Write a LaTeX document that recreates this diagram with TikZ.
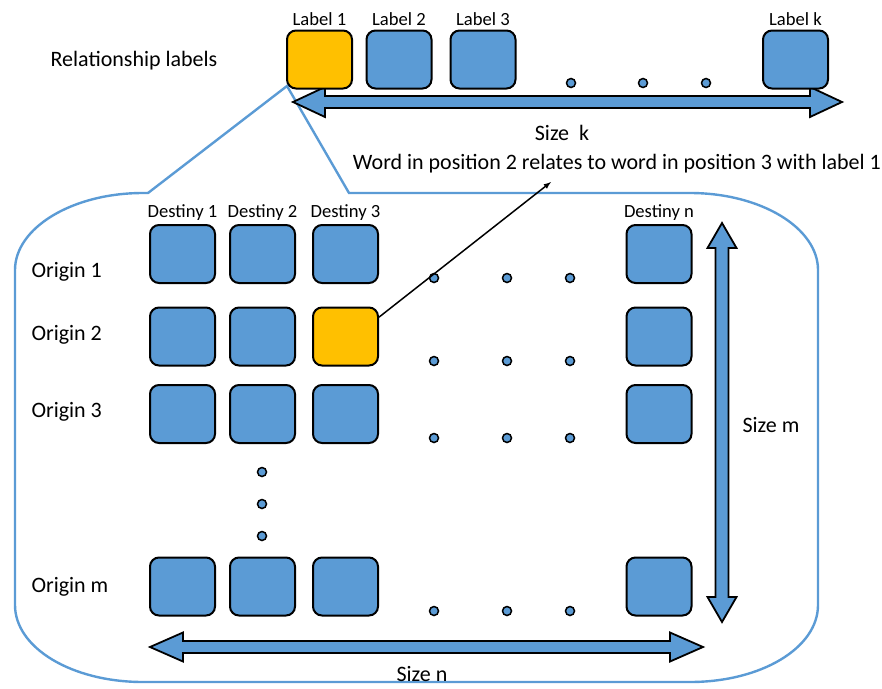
\documentclass[tikz,border=0pt]{standalone}
\usepackage{fontspec}
\setmainfont{Carlito}
\usepackage{xcolor}
\usetikzlibrary{positioning}
\definecolor{boxblue}{HTML}{5B9BD5}
\definecolor{boxorange}{HTML}{FFC000}

\begin{document}
\begin{tikzpicture}[x=1pt, y=-1pt, >=latex,
    cell/.style={draw, line width=2pt, fill=boxblue, rounded corners=9pt, minimum width=65pt, minimum height=58pt},
    hit/.style={cell, fill=boxorange},
    dot/.style={draw, circle, line width=1.5pt, fill=boxblue, inner sep=0pt, minimum size=9pt},
    big/.style={font=\fontsize{22}{25}\selectfont},
    small/.style={font=\fontsize{18.6}{21}\selectfont},
    block/.style={draw, line width=1.8pt, fill=boxblue}]
  \useasboundingbox (0,0) rectangle (882,688);

  % zoom callout from label 1 down to the matrix
  \draw[boxblue, line width=2.4pt] (287,86) -- (349,193) -- (690,193)
      .. controls (761,193) and (818,228) .. (818,270) -- (818,605)
      .. controls (818,648) and (761,682) .. (690,682) -- (143,682)
      .. controls (72,682) and (15,648) .. (15,605) -- (15,270)
      .. controls (15,228) and (72,193) .. (143,193) -- (148,193) -- cycle;

  % block arrows
  \draw[block] (293,102) -- (325,87) -- (325,96) -- (810,96) -- (810,87) -- (842,102)
      -- (810,117) -- (810,108) -- (325,108) -- (325,117) -- cycle;
  \draw[block] (722,223) -- (736.5,248) -- (728.5,248) -- (728.5,597) -- (736.5,597) -- (722,622)
      -- (707.5,597) -- (715.5,597) -- (715.5,248) -- (707.5,248) -- cycle;
  \draw[block] (150,647) -- (183,632.5) -- (183,641) -- (670,641) -- (670,632.5) -- (703,647)
      -- (670,661.5) -- (670,653) -- (183,653) -- (183,661.5) -- cycle;

  % relationship labels
  \node[big]  (rel) at (134,61) {Relationship labels};
  \node[hit]  (L1)  at (319.5,59.5) {};
  \node[cell] (L2)  at (399,59.5)   {};
  \node[cell] (L3)  at (483,59.5)   {};
  \node[cell] (Lk)  at (795.5,59.5) {};
  \node[small, above=0pt of L1] (tL1) {Label 1};
  \node[small, above=0pt of L2] (tL2) {Label 2};
  \node[small, above=0pt of L3] (tL3) {Label 3};
  \node[small, above=0pt of Lk] (tLk) {Label k};
  \node[dot] (k1) at (571,83) {};
  \node[dot] (k2) at (643,83) {};
  \node[dot] (k3) at (706,83) {};
  \node[big] (sizek) at (562,133) {Size~~k};

  % matrix
  \node[cell] (B11) at (182.5,254)   {};
  \node[cell] (B12) at (262.5,254)   {};
  \node[cell] (B13) at (345.5,254)   {};
  \node[cell] (B1n) at (659,254)     {};
  \node[cell] (B21) at (182.5,336.5) {};
  \node[cell] (B22) at (262.5,336.5) {};
  \node[hit]  (B23) at (345.5,336.5) {};
  \node[cell] (B2n) at (659,336.5)   {};
  \node[cell] (B31) at (182.5,414)   {};
  \node[cell] (B32) at (262.5,414)   {};
  \node[cell] (B33) at (345.5,414)   {};
  \node[cell] (B3n) at (659,414)     {};
  \node[cell] (Bm1) at (182.5,586.5) {};
  \node[cell] (Bm2) at (262.5,586.5) {};
  \node[cell] (Bm3) at (345.5,586.5) {};
  \node[cell] (Bmn) at (659,586.5)   {};

  \node[small, above=0pt of B11] (d1) {Destiny 1};
  \node[small, above=0pt of B12] (d2) {Destiny 2};
  \node[small, above=0pt of B13] (d3) {Destiny 3};
  \node[small, above=0pt of B1n] (dn) {Destiny n};

  \node[big, anchor=west] (o1) at (28,272)   {Origin 1};
  \node[big, anchor=west] (o2) at (28,335)   {Origin 2};
  \node[big, anchor=west] (o3) at (28,412)   {Origin 3};
  \node[big, anchor=west] (om) at (28,587)   {Origin m};

  \node[dot] (p11) at (434,278) {}; \node[dot] (p12) at (507,278) {}; \node[dot] (p13) at (570,278) {};
  \node[dot] (p21) at (434,361) {}; \node[dot] (p22) at (507,361) {}; \node[dot] (p23) at (570,361) {};
  \node[dot] (p31) at (434,438) {}; \node[dot] (p32) at (507,438) {}; \node[dot] (p33) at (570,438) {};
  \node[dot] (pm1) at (434,611) {}; \node[dot] (pm2) at (507,611) {}; \node[dot] (pm3) at (570,611) {};
  \node[dot] (v1)  at (262,472) {};
  \node[dot] (v2)  at (262,504) {};
  \node[dot] (v3)  at (262,536) {};

  \node[big] (sizem) at (771,425) {Size m};
  \node[big, inner sep=0pt] (sizen) at (422,674) {Size n};

  % explanation of the highlighted cell
  \node[big] (word) at (617,164) {Word in position 2 relates to word in position 3 with label 1};
  \coordinate (wtip) at (551,182);
  \draw[->, line width=1.5pt] (B23.30) -- (wtip);
\end{tikzpicture}
\end{document}
